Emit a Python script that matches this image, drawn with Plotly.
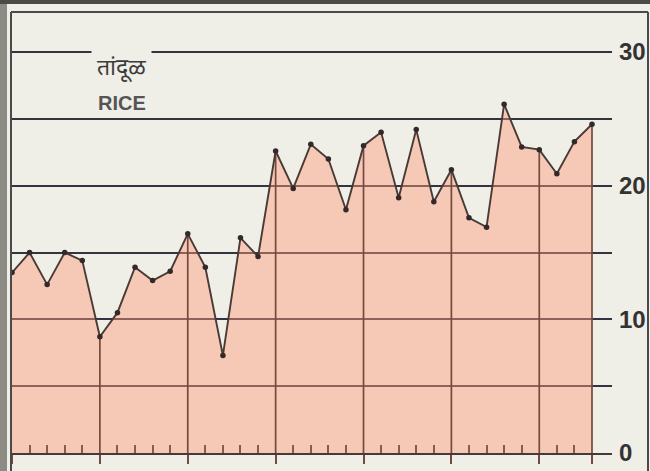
import plotly.graph_objects as go

# rice price series (one point per tick)
rice = [13.5, 15.0, 12.6, 15.0, 14.4, 8.7, 10.5, 13.9, 12.9, 13.6,
        16.4, 13.9, 7.3, 16.1, 14.7, 22.6, 19.8, 23.1, 22.0, 18.2,
        23.0, 24.0, 19.1, 24.2, 18.8, 21.2, 17.6, 16.9, 26.1, 22.9,
        22.7, 20.9, 23.3, 24.6]
y_ticks = [0, 10, 20, 30]
title_mr = "तांदूळ"
title_en = "RICE"

idx = list(range(len(rice)))
last = idx[-1]
major = list(range(0, len(rice), 5)) + [last]
minor = [i for i in idx if i not in major]

W, H = 650, 471
ml, mr, mt, mb = 12, 38, 12, 18
pw, ph = W - ml - mr, H - mt - mb

bg = "#efeee7"
grid = "#323442"
brown = "#74493e"

# drop lines at every 5th point + the last one
dx, dy = [], []
for i in major[1:]:
    dx += [i, i, None]
    dy += [0, rice[i], None]

fig = go.Figure()
fig.add_trace(go.Scatter(x=idx, y=rice, fill="tozeroy", mode="none",
                         fillcolor="rgba(255,154,122,0.45)", hoverinfo="skip"))
fig.add_trace(go.Scatter(x=dx, y=dy, mode="lines",
                         line=dict(color=brown, width=1.7), hoverinfo="skip"))
fig.add_trace(go.Scatter(x=idx, y=rice, mode="lines+markers",
                         line=dict(color="#4a3a35", width=1.9),
                         marker=dict(size=5.5, color="#33282a")))

def px(x):
    return (x - ml) / pw

def py(y):
    return (H - mb - y) / ph

frame = dict(color="#4a4a4a", width=2)
fig.update_layout(
    width=W, height=H,
    margin=dict(l=ml, r=mr, t=mt, b=mb, autoexpand=False),
    paper_bgcolor=bg, plot_bgcolor=bg,
    showlegend=False,
    xaxis=dict(range=[0, last * pw / 580], tickmode="array", tickvals=major,
               ticks="outside", ticklen=9, tickwidth=1.7, tickcolor=brown,
               showticklabels=False, showgrid=False, zeroline=False,
               showline=True, linecolor="#453a38", linewidth=2,
               minor=dict(tickmode="array", tickvals=minor, ticks="inside",
                          ticklen=8, tickwidth=1.6, tickcolor="#8a5a4c")),
    yaxis=dict(range=[0, 33.0], side="right", tickvals=y_ticks,
               showgrid=True, gridcolor=grid, gridwidth=1.6, zeroline=False,
               ticks="", ticklabelstandoff=6,
               tickfont=dict(family="Liberation Sans", size=24,
                             color="#333333", weight="bold"),
               minor=dict(dtick=5, showgrid=True, gridcolor=grid, gridwidth=1.6)),
    shapes=[
        dict(type="rect", xref="paper", yref="paper", x0=px(0), x1=px(7),
             y0=py(0), y1=py(H), fillcolor="#8d8c84", line_width=0),
        dict(type="rect", xref="paper", yref="paper", x0=px(0), x1=px(W),
             y0=py(0), y1=py(4), fillcolor="#4a4a46", line_width=0),
        dict(type="line", xref="paper", yref="paper", x0=px(11), x1=px(11),
             y0=py(12), y1=py(H), line=frame),
        dict(type="line", xref="paper", yref="paper", x0=px(11), x1=px(648),
             y0=py(12), y1=py(12), line=frame),
        dict(type="line", xref="paper", yref="paper", x0=px(648), x1=px(648),
             y0=py(12), y1=py(H), line=frame),
    ],
    annotations=[
        dict(text=title_mr, xref="paper", yref="paper", x=px(122), y=py(66),
             xanchor="center", yanchor="middle",
             showarrow=False, bgcolor=bg, borderpad=5,
             font=dict(family="Noto Sans, DejaVu Sans", size=23, color="#3c3c3c")),
        dict(text=title_en, xref="paper", yref="paper", x=px(122), y=py(103),
             xanchor="center", yanchor="middle", showarrow=False,
             font=dict(family="Liberation Sans", size=20, color="#555555",
                       weight="bold")),
    ],
)

# page body has a default margin; drop it so the figure sits at 0,0
fig.write_html("out.html", config={"displayModeBar": False},
               post_script="document.body.style.margin='0';"
                           "document.body.style.background='#efeee7';")
